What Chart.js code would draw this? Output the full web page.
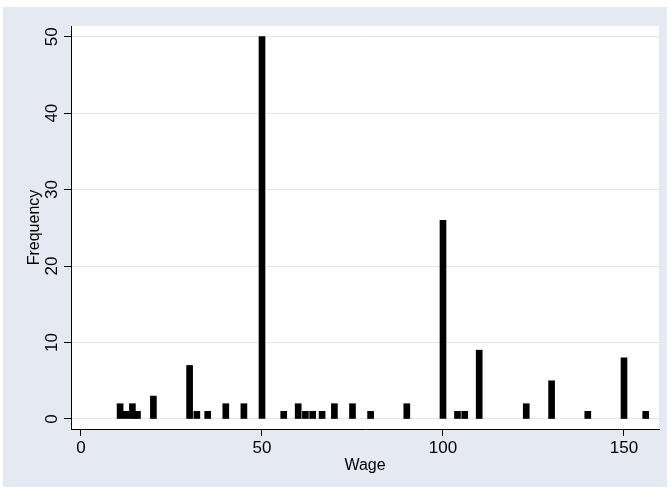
<!DOCTYPE html>
<html><head><meta charset="utf-8">
<script src="https://cdn.jsdelivr.net/npm/chart.js@4/dist/chart.umd.min.js"></script>
<style>html,body{margin:0;padding:0;background:#fff}</style>
</head><body>
<canvas id="c" width="670" height="493"></canvas>
<script>
const wages = [10.8, 12.5, 14.2, 15.6, 20, 30, 32, 35, 40, 45, 50, 56, 60, 62, 64, 66.6, 70, 75, 80, 90, 100, 104, 106, 110, 123, 130, 140, 150, 156];
const freqs = [2, 1, 2, 1, 3, 7, 1, 1, 2, 2, 50, 1, 2, 1, 1, 1, 2, 2, 1, 2, 26, 1, 1, 9, 2, 5, 1, 8, 1];
const xTickValues = [0, 50, 100, 150];
const yTickValues = [0, 10, 20, 30, 40, 50];
const xTitle = 'Wage';
const yTitle = 'Frequency';

const FONT = '"Liberation Sans", Arial, sans-serif';
const BG = '#e5e9f1';

const bgPlugin = {
  id: 'bg',
  beforeDraw(chart) {
    const ctx = chart.ctx, a = chart.chartArea;
    ctx.save();
    ctx.fillStyle = '#ffffff';
    ctx.fillRect(0, 0, chart.width, chart.height);
    ctx.fillStyle = BG;
    ctx.fillRect(3, 7, 664, 480);
    ctx.fillStyle = '#ffffff';
    ctx.fillRect(a.left, a.top, a.right - a.left, a.bottom - a.top);
    ctx.restore();
  }
};

new Chart(document.getElementById('c'), {
  type: 'bar',
  data: {
    datasets: [{
      data: wages.map((w, i) => ({ x: w, y: freqs[i] })),
      backgroundColor: '#000000',
      borderWidth: 0,
      barThickness: 6,
      grouped: false
    }]
  },
  options: {
    responsive: false,
    devicePixelRatio: 1,
    animation: false,
    layout: { padding: { left: 0, top: 26, right: 11, bottom: 0 } },
    plugins: { legend: { display: false }, tooltip: { enabled: false } },
    scales: {
      x: {
        type: 'linear',
        min: -2.762,
        max: 159.67,
        offset: false,
        afterBuildTicks: s => { s.ticks = xTickValues.map(v => ({ value: v })); },
        afterFit: s => { s.height = 64; },
        grid: { display: true, offset: false, drawOnChartArea: false, drawTicks: true, tickLength: 7, tickColor: '#000', tickWidth: 1 },
        border: { display: true, color: '#000', width: 1 },
        ticks: { color: '#000', font: { family: FONT, size: 17 }, padding: 2, maxRotation: 0, autoSkip: false },
        title: { display: true, text: xTitle, color: '#000', font: { family: FONT, size: 16 }, padding: { top: 0, bottom: 18 } }
      },
      y: {
        type: 'linear',
        min: -1.308,
        max: 51.40,
        afterBuildTicks: s => { s.ticks = yTickValues.map(v => ({ value: v })); },
        afterFit: s => { s.width = 71; },
        grid: { color: '#e1e5ee', lineWidth: 1, drawTicks: true, tickLength: 7, tickColor: '#000', tickWidth: 1 },
        border: { display: true, color: '#000', width: 1 },
        ticks: { color: '#000', font: { family: FONT, size: 17 }, padding: 2, minRotation: 90, maxRotation: 90, crossAlign: 'center', autoSkip: false },
        title: { display: true, text: yTitle, color: '#000', font: { family: FONT, size: 16 }, padding: { top: 25, bottom: 0 } }
      }
    }
  },
  plugins: [bgPlugin]
});
</script>
</body></html>
